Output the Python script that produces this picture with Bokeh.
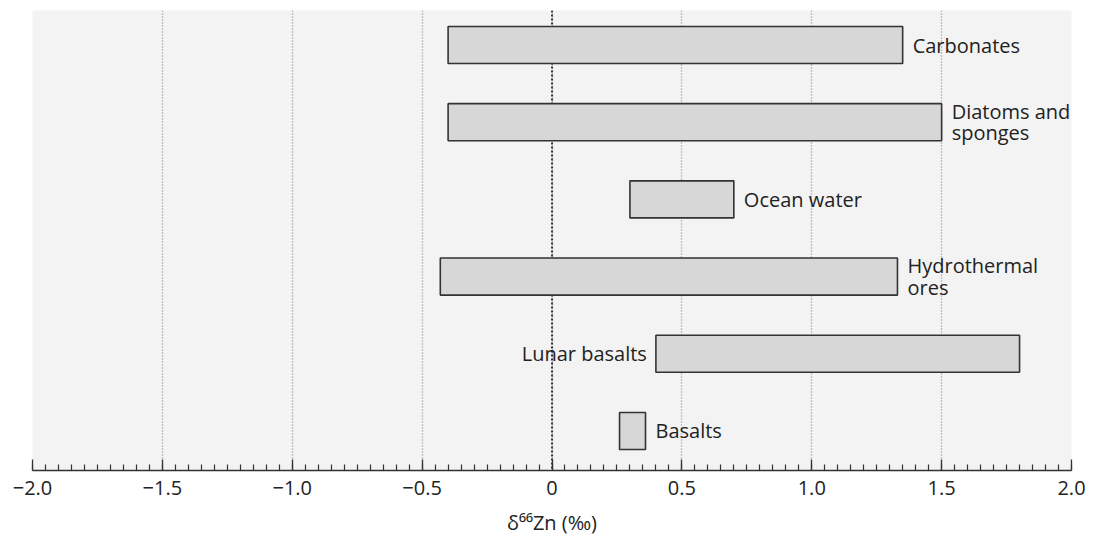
from bokeh.plotting import figure
from bokeh.models import Range1d, FixedTicker, Span, ColumnDataSource
from bokeh.core.properties import value
from bokeh.embed import file_html
from bokeh.resources import INLINE
import numpy as np

# ---- data ----
categories = ["Basalts", "Lunar basalts", "Hydrothermal\nores", "Ocean water", "Diatoms and\nsponges", "Carbonates"]
low = [0.26, 0.40, -0.43, 0.30, -0.40, -0.40]
high = [0.36, 1.80, 1.33, 0.70, 1.50, 1.35]
label_side = ["right", "left", "right", "right", "right", "right"]
tick_values = [-2.0, -1.5, -1.0, -0.5, 0.0, 0.5, 1.0, 1.5, 2.0]
tick_labels = ["\u22122.0", "\u22121.5", "\u22121.0", "\u22120.5", "0", "0.5", "1.0", "1.5", "2.0"]

FONT = "Open Sans"
ypos = list(range(len(categories)))

p = figure(width=1093, height=539, output_backend="svg", toolbar_location=None,
           x_range=Range1d(-2.0, 2.0), y_range=Range1d(-0.512, 5.447),
           y_axis_location=None, min_border_left=32, min_border_right=22,
           min_border_top=10, min_border_bottom=69)
p.outline_line_color = None
p.background_fill_color = "#f3f3f3"
p.border_fill_color = "white"

# grid
p.ygrid.grid_line_color = None
p.xgrid.grid_line_color = "#8a8a8a"
p.xgrid.grid_line_dash = "1 2"
p.xgrid.grid_line_width = 1.3

zero = Span(location=0, dimension="height", line_color="#222222", line_dash="2 2",
            line_width=1.8, level="underlay")
p.add_layout(zero)

src = ColumnDataSource(dict(y=ypos, left=low, right=high, cat=categories))
p.hbar(y="y", left="left", right="right", height=0.48, source=src,
       fill_color="#d7d7d7", line_color="#333333", line_width=1.6)

# labels
rx, ry, rt = [], [], []
lx, ly, lt = [], [], []
for i, c in enumerate(categories):
    if label_side[i] == "right":
        rx.append(high[i]); ry.append(ypos[i]); rt.append(c)
    else:
        lx.append(low[i]); ly.append(ypos[i]); lt.append(c)
p.text(x=rx, y=ry, text=rt, x_offset=10, text_align="left", text_baseline="middle",
       text_font=value(FONT), text_font_size="20px", text_color="#222222",
       text_line_height=0.8)
p.text(x=lx, y=ly, text=lt, x_offset=-9, text_align="right", text_baseline="middle",
       text_font=value(FONT), text_font_size="20px", text_color="#222222",
       text_line_height=0.8)

# x axis
ax = p.xaxis[0]
minor = [round(v, 2) for v in np.arange(-2.0, 2.0001, 0.05)]
ax.ticker = FixedTicker(ticks=tick_values, minor_ticks=minor)
ax.major_label_overrides = {v: t for v, t in zip(tick_values, tick_labels)}
ax.major_tick_in = 11
ax.major_tick_out = 0
ax.minor_tick_in = 6
ax.minor_tick_out = 0
ax.axis_line_color = "#333333"
ax.axis_line_width = 1.6
ax.major_tick_line_color = "#333333"
ax.major_tick_line_width = 1.3
ax.minor_tick_line_color = "#333333"
ax.minor_tick_line_width = 1.2
ax.major_label_text_font = FONT
ax.major_label_text_font_size = "20px"
ax.major_label_text_color = "#222222"
ax.major_label_standoff = 10
ax.axis_label = "\u03b4\u2076\u2076Zn (\u2030)"
ax.axis_label_text_font = FONT
ax.axis_label_text_font_style = "normal"
ax.axis_label_text_font_size = "20px"
ax.axis_label_text_color = "#222222"
ax.axis_label_standoff = 11

open("out.html", "w").write(file_html(p, INLINE))
